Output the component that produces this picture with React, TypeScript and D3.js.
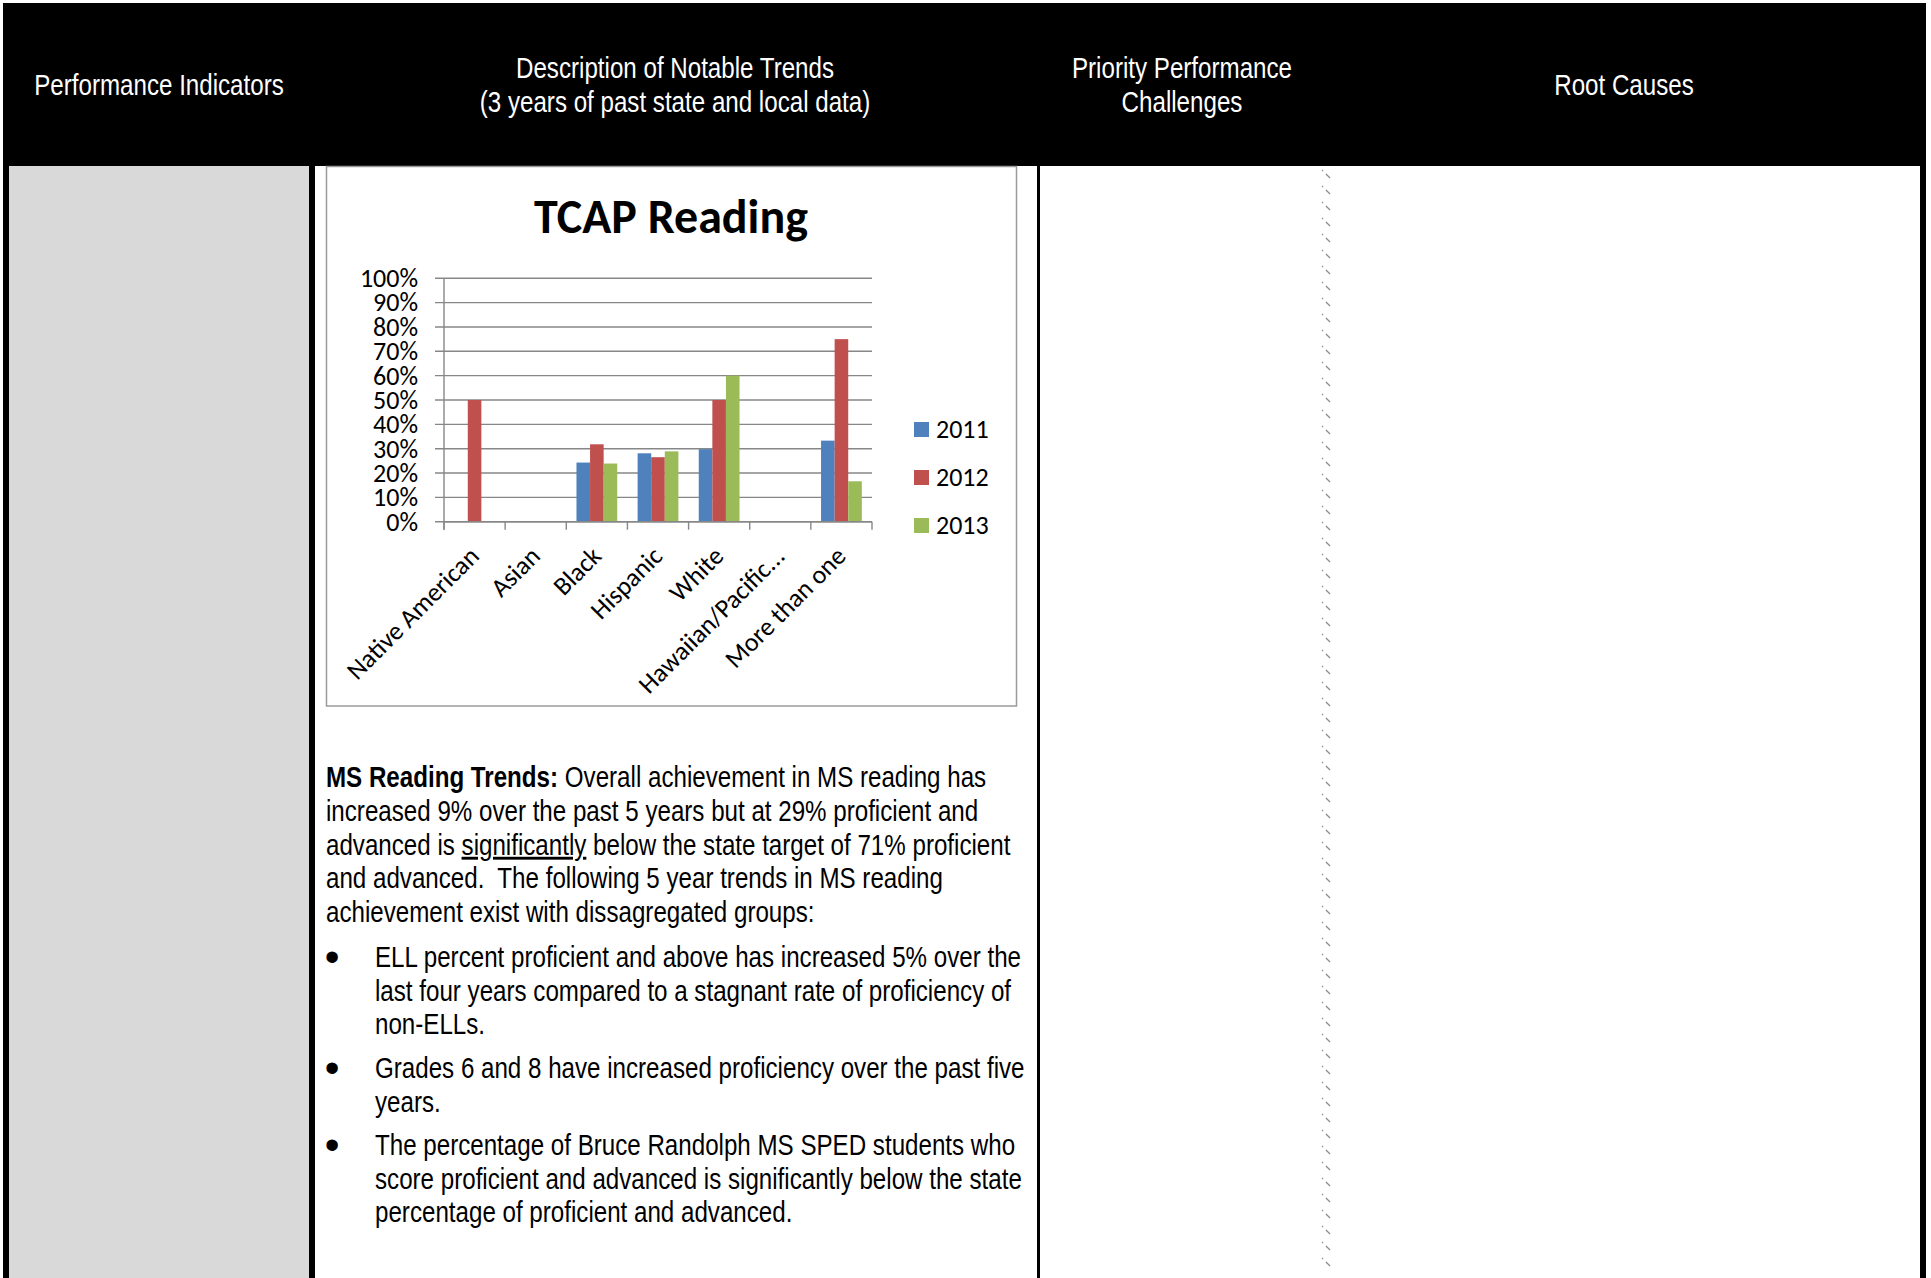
import { useEffect, useRef } from "react";
import * as d3 from "d3";

// chart data
const categories = [
  "Native American",
  "Asian",
  "Black",
  "Hispanic",
  "White",
  "Hawaiian/Pacific...",
  "More than one",
];
const years = ["2011", "2012", "2013"];
const values2011 = [null, null, 0.243, 0.281, 0.298, null, 0.333];
const values2012 = [0.5, null, 0.318, 0.265, 0.5, null, 0.75];
const values2013 = [null, null, 0.239, 0.289, 0.6, null, 0.166];
const yTicks = [0, 0.1, 0.2, 0.3, 0.4, 0.5, 0.6, 0.7, 0.8, 0.9, 1];
const yearColors = ["#4F81BD", "#C0504D", "#9BBB59"];
const chartTitle = "TCAP Reading";

// surrounding table text
const headerCells = [
  { x: 159, lines: ["Performance Indicators"] },
  { x: 675, lines: ["Description of Notable Trends", "(3 years of past state and local data)"] },
  { x: 1182, lines: ["Priority Performance", "Challenges"] },
  { x: 1624, lines: ["Root Causes"] },
];
const paragraphLines = [
  [{ t: "MS Reading Trends:", b: true }, { t: " Overall achievement in MS reading has" }],
  [{ t: "increased 9% over the past 5 years but at 29% proficient and" }],
  [{ t: "advanced is " }, { t: "significantly", u: true }, { t: " below the state target of 71% proficient" }],
  [{ t: "and advanced.  The following 5 year trends in MS reading" }],
  [{ t: "achievement exist with dissagregated groups:" }],
];
const bullets = [
  ["ELL percent proficient and above has increased 5% over the", "last four years compared to a stagnant rate of proficiency of", "non-ELLs."],
  ["Grades 6 and 8 have increased proficiency over the past five", "years."],
  ["The percentage of Bruce Randolph MS SPED students who", "score proficient and advanced is significantly below the state", "percentage of proficient and advanced."],
];

const chartFont = "Carlito, Calibri, Lato, sans-serif";
const textFont = "'Liberation Sans', Arial, sans-serif";
const narrow = 0.833; // arial narrow look: squeeze Liberation Sans

export default function App() {
  const svgRef = useRef<SVGSVGElement>(null);
  const width = 1931;
  const height = 1278;

  useEffect(() => {
    const svg = d3.select(svgRef.current);
    svg.selectAll("*").remove();

    svg.append("rect").attr("width", width).attr("height", height).attr("fill", "white");

    // table frame
    svg.append("rect").attr("x", 3).attr("y", 3).attr("width", 1923).attr("height", 163).attr("fill", "black");
    svg.append("rect").attr("x", 3).attr("y", 3).attr("width", 6).attr("height", height).attr("fill", "black");
    svg.append("rect").attr("x", 9).attr("y", 166).attr("width", 300).attr("height", height).attr("fill", "#D9D9D9");
    svg.append("rect").attr("x", 309).attr("y", 166).attr("width", 6).attr("height", height).attr("fill", "black");
    svg.append("rect").attr("x", 1037).attr("y", 166).attr("width", 3).attr("height", height).attr("fill", "black");
    svg.append("rect").attr("x", 1920).attr("y", 3).attr("width", 6).attr("height", height).attr("fill", "black");

    // dotted divider between the last two columns
    const dots = d3.range(170, 1265, 16);
    svg.append("g")
      .selectAll("path")
      .data(dots)
      .join("path")
      .attr("d", (d) => `M1322,${d}l1,1 M1326,${d + 4}l4,4`)
      .attr("stroke", "#8a8a8a")
      .attr("stroke-width", 1.2);

    const narrowText = (x: number, y: number, anchor = "start") =>
      svg.append("text")
        .attr("transform", `translate(${x},${y}) scale(${narrow},1)`)
        .attr("text-anchor", anchor)
        .style("font-family", textFont)
        .style("font-size", "29px")
        .style("white-space", "pre");

    // header text
    headerCells.forEach((cell) => {
      const y0 = cell.lines.length === 1 ? 95 : 78;
      cell.lines.forEach((line, i) => {
        narrowText(cell.x, y0 + i * 34, "middle").attr("fill", "white").text(line);
      });
    });

    // chart box
    svg.append("rect")
      .attr("x", 326.5).attr("y", 166.5).attr("width", 690).attr("height", 539.5)
      .attr("fill", "white").attr("stroke", "#9a9a9a").attr("stroke-width", 1.5);

    svg.append("text")
      .attr("x", 671).attr("y", 233)
      .attr("text-anchor", "middle")
      .style("font-family", chartFont)
      .style("font-size", "48px")
      .style("font-weight", "bold")
      .text(chartTitle);

    const plot = { left: 444, right: 872, top: 278.3, bottom: 521.7 };

    const xScale = d3.scaleBand().domain(categories).range([plot.left, plot.right]);
    const bw = xScale.bandwidth();
    const barW = bw / 4.5;
    const x1 = d3.scaleBand().domain(years).range([0.75 * barW, 3.75 * barW]);
    const yScale = d3.scaleLinear().domain([0, 1]).range([plot.bottom, plot.top]);

    // grid + y ticks
    svg.append("g")
      .selectAll("line")
      .data(yTicks)
      .join("line")
      .attr("x1", plot.left - 9)
      .attr("x2", plot.right)
      .attr("y1", (d) => yScale(d))
      .attr("y2", (d) => yScale(d))
      .attr("stroke", "#878787")
      .attr("stroke-width", 1.4);

    svg.append("g")
      .selectAll("text")
      .data(yTicks)
      .join("text")
      .attr("x", 418)
      .attr("y", (d) => yScale(d))
      .attr("dy", "0.34em")
      .attr("text-anchor", "end")
      .style("font-family", chartFont)
      .style("font-size", "26px")
      .text((d) => d3.format(".0%")(d));

    // bars
    const series = [values2011, values2012, values2013];
    series.forEach((vals, si) => {
      svg.append("g")
        .selectAll("rect")
        .data(categories.map((c, i) => ({ c, v: vals[i] })).filter((d) => d.v !== null))
        .join("rect")
        .attr("x", (d) => (xScale(d.c) as number) + (x1(years[si]) as number))
        .attr("y", (d) => yScale(d.v as number))
        .attr("width", x1.bandwidth())
        .attr("height", (d) => plot.bottom - yScale(d.v as number))
        .attr("fill", yearColors[si]);
    });

    // axes
    svg.append("line")
      .attr("x1", plot.left).attr("x2", plot.left)
      .attr("y1", plot.top).attr("y2", plot.bottom + 8)
      .attr("stroke", "#878787").attr("stroke-width", 1.4);
    svg.append("line")
      .attr("x1", plot.left).attr("x2", plot.right)
      .attr("y1", plot.bottom).attr("y2", plot.bottom)
      .attr("stroke", "#878787").attr("stroke-width", 1.4);
    svg.append("g")
      .selectAll("line")
      .data(categories.map((c) => xScale(c) as number).concat([plot.right]))
      .join("line")
      .attr("x1", (d) => d).attr("x2", (d) => d)
      .attr("y1", plot.bottom).attr("y2", plot.bottom + 8)
      .attr("stroke", "#878787").attr("stroke-width", 1.4);

    // x labels
    svg.append("g")
      .selectAll("text")
      .data(categories)
      .join("text")
      .attr("text-anchor", "end")
      .attr("transform", (d) => `translate(${(xScale(d) as number) + bw / 2 + 6},${plot.bottom + 36}) rotate(-45)`)
      .style("font-family", chartFont)
      .style("font-size", "26px")
      .text((d) => d);

    // legend
    years.forEach((yr, i) => {
      const cy = 429.5 + i * 48;
      svg.append("rect").attr("x", 914).attr("y", cy - 7.5).attr("width", 15).attr("height", 15).attr("fill", yearColors[i]);
      svg.append("text")
        .attr("x", 936).attr("y", cy).attr("dy", "0.34em")
        .style("font-family", chartFont)
        .style("font-size", "26px")
        .text(yr);
    });

    // paragraph
    paragraphLines.forEach((segs, i) => {
      const t = narrowText(326, 787 + i * 33.8);
      segs.forEach((s: any) => {
        t.append("tspan")
          .style("font-weight", s.b ? "bold" : "normal")
          .style("text-decoration", s.u ? "underline" : "none")
          .text(s.t);
      });
    });

    // bullet list
    const bulletStarts = [967, 1078, 1155];
    bullets.forEach((lines, bi) => {
      svg.append("text")
        .attr("x", 332).attr("y", bulletStarts[bi] + 4)
        .attr("text-anchor", "middle")
        .style("font-family", textFont)
        .style("font-size", "42px")
        .text("•");
      lines.forEach((line, li) => {
        narrowText(375, bulletStarts[bi] + li * 33.6).text(line);
      });
    });
  }, []);

  return (
    <svg
      ref={svgRef}
      width={width}
      height={height}
      style={{ position: "absolute", left: 0, top: 0, display: "block" }}
    />
  );
}
